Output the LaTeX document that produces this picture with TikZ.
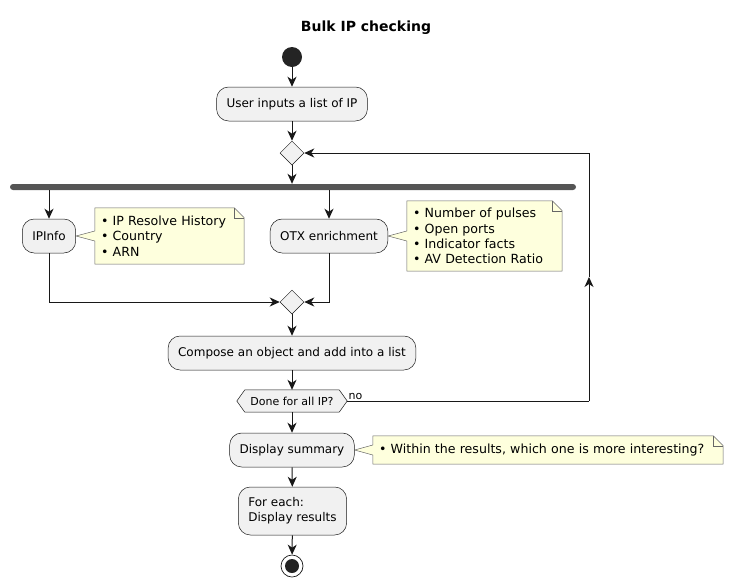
\documentclass[tikz,border=0pt]{standalone}
\usepackage{fontspec}
\setmainfont{DejaVu Sans}
\usetikzlibrary{arrows.meta, shapes.geometric, backgrounds}
\definecolor{actfill}{HTML}{F1F1F1}
\definecolor{notefill}{HTML}{FEFFDD}
\definecolor{ink}{HTML}{181818}
\definecolor{barcol}{HTML}{555555}

\begin{document}
\begin{tikzpicture}[x=1pt, y=-1pt,
    action/.style={draw=ink, line width=0.5pt, fill=actfill, rounded corners=12pt, minimum height=34pt, inner xsep=10pt, font=\fontsize{12}{15}\selectfont},
    choice/.style={diamond, draw=ink, line width=0.5pt, fill=actfill, minimum size=24pt, inner sep=0pt},
    flow/.style={-{Stealth[length=10pt, width=9pt, inset=3pt]}, ink, line width=1pt},
    wire/.style={ink, line width=1pt},
    notebox/.style={align=left, inner xsep=6pt, inner ysep=0pt, font=\fontsize{12.6}{15.3}\selectfont},
    notepaper/.style={draw=black!60, line width=0.5pt, fill=notefill},
]
    \useasboundingbox (0,0) rectangle (735,587);

    % Titulo
    \node (title) at (366,28) {\bfseries\fontsize{14}{17}\selectfont Bulk IP checking};

    % Inicio
    \node[circle, fill=ink!95, minimum size=20pt, inner sep=0pt] (start) at (292,57) {};
    \node[action] (input) at (292,104) {User inputs a list of IP};
    \node[choice] (loop) at (292,153) {};

    % Barra de bifurcacion
    \node[fill=barcol, rounded corners=3pt, minimum width=566pt, minimum height=6pt, inner sep=0pt] (fork) at (293,187) {};

    % Ramas
    \node[action] (ipinfo) at (49,236) {IPInfo};
    \node[action] (otx) at (329,236) {OTX enrichment};
    \node[notebox, text width=137pt, minimum height=56pt] (ipnote) at (169.5,236)
        {\textbullet\ IP Resolve History\\ \textbullet\ Country\\ \textbullet\ ARN};
    \node[notebox, text width=143pt, minimum height=70pt] (otxnote) at (484.5,236)
        {\textbullet\ Number of pulses\\ \textbullet\ Open ports\\ \textbullet\ Indicator facts\\ \textbullet\ AV Detection Ratio};
    \node[choice] (merge) at (292,302) {};

    % Cuerpo del bucle
    \node[action] (compose) at (292,353) {Compose an object and add into a list};
    \node[minimum width=110pt, minimum height=22pt, inner sep=0pt, font=\fontsize{11}{13}\selectfont] (done) at (292,401) {Done for all IP?};

    % Final
    \node[action] (summary) at (292,450) {Display summary};
    \node[notebox, text width=338pt, minimum height=28pt] (sumnote) at (548,450)
        {\textbullet\ Within the results, which one is more interesting?};
    \node[action, align=left, minimum height=48pt] (results) at (292.5,511) {For each:\\Display results};
    \node[circle, draw=ink, line width=0.7pt, fill=white, minimum size=22pt, inner sep=0pt] (stop) at (292,566) {};
    \fill[ink!95] (stop) circle (7pt);

    % Notas y hexagono (al fondo)
    \begin{scope}[on background layer]
        \filldraw[notepaper] (ipnote.north west) -- ([xshift=-10pt]ipnote.north east) -- ([yshift=-10pt]ipnote.north east) -- (ipnote.south east) -- (ipnote.south west) -- ([yshift=-5pt]ipnote.west) -- (ipinfo.east) -- ([yshift=5pt]ipnote.west) -- cycle;
        \draw[notepaper, fill=none] ([xshift=-10pt]ipnote.north east) -- ([xshift=-10pt, yshift=-10pt]ipnote.north east) -- ([yshift=-10pt]ipnote.north east);
        \filldraw[notepaper] (otxnote.north west) -- ([xshift=-10pt]otxnote.north east) -- ([yshift=-10pt]otxnote.north east) -- (otxnote.south east) -- (otxnote.south west) -- ([yshift=-5pt]otxnote.west) -- (otx.east) -- ([yshift=5pt]otxnote.west) -- cycle;
        \draw[notepaper, fill=none] ([xshift=-10pt]otxnote.north east) -- ([xshift=-10pt, yshift=-10pt]otxnote.north east) -- ([yshift=-10pt]otxnote.north east);
        \filldraw[notepaper] (sumnote.north west) -- ([xshift=-10pt]sumnote.north east) -- ([yshift=-10pt]sumnote.north east) -- (sumnote.south east) -- (sumnote.south west) -- ([yshift=-5pt]sumnote.west) -- (summary.east) -- ([yshift=5pt]sumnote.west) -- cycle;
        \draw[notepaper, fill=none] ([xshift=-10pt]sumnote.north east) -- ([xshift=-10pt, yshift=-10pt]sumnote.north east) -- ([yshift=-10pt]sumnote.north east);
        \filldraw[draw=ink, line width=0.5pt, fill=actfill] (done.west) -- ([xshift=8pt]done.north west) -- ([xshift=-8pt]done.north east) -- (done.east) -- ([xshift=-8pt]done.south east) -- ([xshift=8pt]done.south west) -- cycle;
    \end{scope}

    % Flechas
    \draw[flow] (start) -- (input);
    \draw[flow] (input) -- (loop);
    \draw[flow] (loop) -- (loop |- fork.north);
    \draw[flow] (fork.south -| ipinfo) -- (ipinfo);
    \draw[flow] (fork.south -| otx) -- (otx);
    \draw[flow] (ipinfo.south) |- (merge.west);
    \draw[flow] (otx.south) |- (merge.east);
    \draw[flow] (merge) -- (compose);
    \draw[flow] (compose) -- (done);
    \draw[flow] (done) -- (summary);
    \draw[flow] (summary) -- (results);
    \draw[flow] (results) -- (stop);

    % Vuelta del bucle
    \coordinate (back) at (589,401);
    \coordinate (backmid) at (589,277);
    \draw[wire] (done.east) -- (back) node[pos=0, anchor=south west, inner sep=1pt, font=\fontsize{11}{13}\selectfont, text=black] {no};
    \draw[flow] (back) -- (backmid);
    \draw[flow] (backmid) |- (loop.east);
\end{tikzpicture}
\end{document}
